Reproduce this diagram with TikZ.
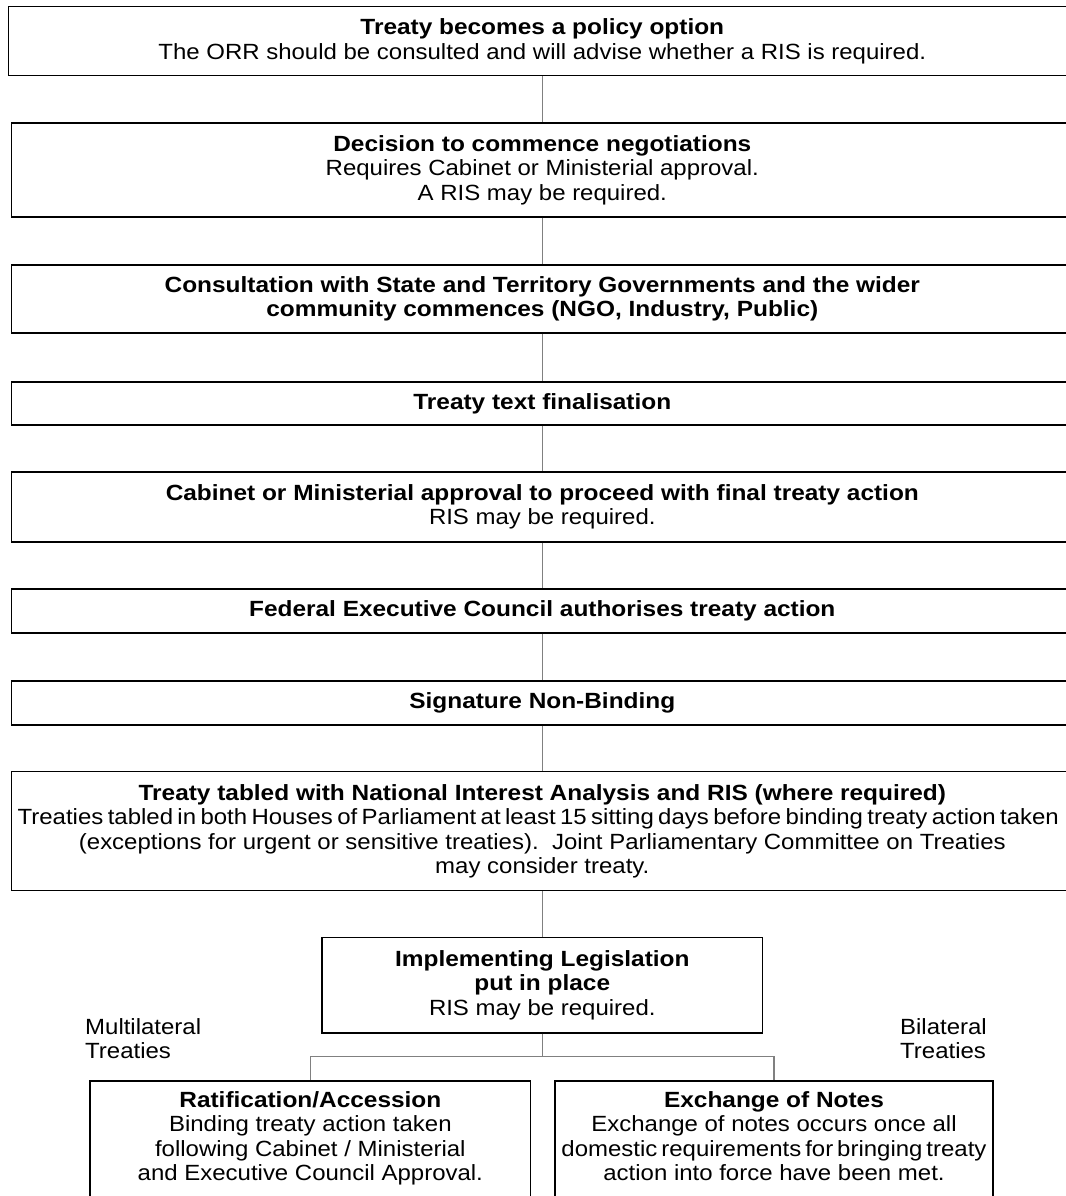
\documentclass[tikz,border=0pt]{standalone}
\usepackage{fontspec}
\setmainfont{Liberation Sans}[FakeStretch=1.09,BoldFeatures={FakeStretch=1.11}]
\newcommand\myfs{\fontsize{22}{24.5}\selectfont}
\begin{document}
\begin{tikzpicture}[x=1pt,y=-1pt,
  bx/.style={draw=black,line width=1.5pt,align=center,inner sep=0pt,font=\myfs},
  txt/.style={align=center,inner sep=0pt,font=\myfs},
  conn/.style={draw=black!50,line width=1.3pt}]
\useasboundingbox (0,0) rectangle (1065,1196);
\node[bx,minimum width=1068pt,minimum height=69pt] (b1) at (542.3,41.2)
  {\textbf{Treaty becomes a policy option}\\The ORR should be consulted and will advise whether a RIS is required.};
\node[bx,minimum width=1061.2pt,minimum height=94pt] (b2) at (542.3,170)
  {\textbf{Decision to commence negotiations}\\Requires Cabinet or Ministerial approval.\\A RIS may be required.};
\node[bx,minimum width=1061.2pt,minimum height=68pt] (b3) at (542.3,299)
  {\textbf{Consultation with State and Territory Governments and the wider}\\\textbf{community commences (NGO, Industry, Public)}};
\node[bx,minimum width=1061.2pt,minimum height=43pt] (b4) at (542.3,403.5)
  {\textbf{Treaty text finalisation}};
\node[bx,minimum width=1061.2pt,minimum height=70pt] (b5) at (542.3,507)
  {\textbf{Cabinet or Ministerial approval to proceed with final treaty action}\\RIS may be required.};
\node[bx,minimum width=1061.2pt,minimum height=44pt] (b6) at (542.3,611)
  {\textbf{Federal Executive Council authorises treaty action}};
\node[bx,minimum width=1061.2pt,minimum height=44pt] (b7) at (542.3,703)
  {\textbf{Signature Non-Binding}};
\node[bx,minimum width=1061.2pt,minimum height=119pt] (b8) at (542.3,831.2)
  {\textbf{Treaty tabled with National Interest Analysis and RIS (where required)}\\
   {\spaceskip=0.2em\relax\hspace*{-8pt}Treaties tabled in both Houses of Parliament at least 15 sitting days before binding treaty action taken}\\
   (exceptions for urgent or sensitive treaties).\ \ Joint Parliamentary Committee on Treaties\\
   may consider treaty.};
\node[bx,minimum width=440.7pt,minimum height=95.3pt] (b9) at (542.3,985.3)
  {\textbf{Implementing Legislation}\\\textbf{put in place}\\RIS may be required.};
\node[bx,minimum width=440.7pt,minimum height=140pt,anchor=north] (rat) at (310.35,1080) {};
\node[txt,anchor=north] (rattxt) at (310.35,1091)
  {\textbf{Ratification/Accession}\\Binding treaty action taken\\following Cabinet / Ministerial\\and Executive Council Approval.};
\node[bx,minimum width=438pt,minimum height=140pt,anchor=north] (exn) at (774,1080) {};
\node[txt,anchor=north] (exntxt) at (774,1091)
  {\textbf{Exchange of Notes}\\Exchange of notes occurs once all\\{\spaceskip=0.18em\relax domestic requirements for bringing treaty}\\action into force have been met.};
\node[txt,align=left,anchor=north west] (multi) at (85,1018) {Multilateral\\Treaties};
\node[txt,align=left,anchor=north east] (bilat) at (987,1018) {Bilateral\\Treaties};
\coordinate (j) at (542.3,1056.7);
\draw[conn] (b1) -- (b2);
\draw[conn] (b2) -- (b3);
\draw[conn] (b3) -- (b4);
\draw[conn] (b4) -- (b5);
\draw[conn] (b5) -- (b6);
\draw[conn] (b6) -- (b7);
\draw[conn] (b7) -- (b8);
\draw[conn] (b8) -- (b9);
\draw[conn] (b9) -- (j);
\draw[conn] (rat.north) |- (j) -| (exn.north);
\end{tikzpicture}
\end{document}
